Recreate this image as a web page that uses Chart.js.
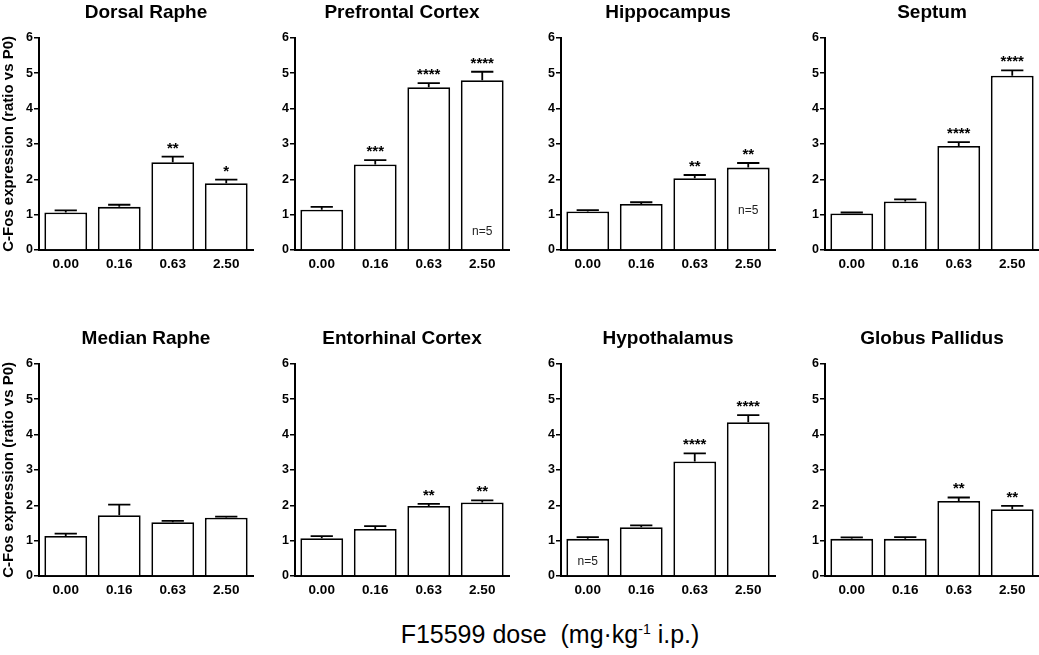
<!DOCTYPE html>
<html>
<head>
<meta charset="utf-8">
<script src="https://cdn.jsdelivr.net/npm/chart.js@4.4.1/dist/chart.umd.min.js"></script>
<style>
  body { margin: 0; background: #fff; width: 1039px; height: 655px; overflow: hidden; position: relative; }
  .panel { position: absolute; }
  #xtitle { position: absolute; left: 300px; top: 614px; width: 500px; text-align: center;
            font: 25px "Liberation Sans", Arial, sans-serif; color: #000; line-height: 30px; }
  #xtitle sup { font-size: 14px; }
</style>
</head>
<body>
<div id="xtitle">F15599 dose&nbsp;&nbsp;(mg·kg<sup>-1</sup> i.p.)</div>
<script>
const doses = ["0.00", "0.16", "0.63", "2.50"];
const regions = ["Dorsal Raphe", "Prefrontal Cortex", "Hippocampus", "Septum",
                 "Median Raphe", "Entorhinal Cortex", "Hypothalamus", "Globus Pallidus"];

// mean ratio vs P0, per region
const dorsalRaphe   = [1.06, 1.22, 2.48, 1.89];
const prefrontal    = [1.14, 2.42, 4.60, 4.80];
const hippocampus   = [1.09, 1.30, 2.03, 2.33];
const septum        = [1.03, 1.37, 2.94, 4.93];
const medianRaphe   = [1.13, 1.72, 1.52, 1.65];
const entorhinal    = [1.07, 1.33, 1.98, 2.08];
const hypothalamus  = [1.05, 1.38, 3.24, 4.35];
const globusPall    = [1.05, 1.05, 2.12, 1.89];

// SEM (upper error bar only)
const dorsalRapheErr  = [0.06, 0.06, 0.16, 0.10];
const prefrontalErr   = [0.08, 0.12, 0.12, 0.24];
const hippocampusErr  = [0.04, 0.05, 0.09, 0.13];
const septumErr       = [0.03, 0.06, 0.11, 0.15];
const medianRapheErr  = [0.07, 0.30, 0.04, 0.03];
const entorhinalErr   = [0.06, 0.08, 0.06, 0.06];
const hypothalamusErr = [0.05, 0.05, 0.23, 0.20];
const globusPallErr   = [0.04, 0.05, 0.10, 0.09];

// significance marks
const dorsalRapheSig  = ["", "", "**", "*"];
const prefrontalSig   = ["", "***", "****", "****"];
const hippocampusSig  = ["", "", "**", "**"];
const septumSig       = ["", "", "****", "****"];
const medianRapheSig  = ["", "", "", ""];
const entorhinalSig   = ["", "", "**", "**"];
const hypothalamusSig = ["", "", "****", "****"];
const globusPallSig   = ["", "", "**", "**"];

// "n=5" notes: [region index, bar index, height in axis units]
const nNotes = [[1, 3, 0.52], [2, 3, 1.10], [6, 0, 0.41]];

const yTicks = [0, 1, 2, 3, 4, 5, 6];

const means = [dorsalRaphe, prefrontal, hippocampus, septum, medianRaphe, entorhinal, hypothalamus, globusPall];
const errs = [dorsalRapheErr, prefrontalErr, hippocampusErr, septumErr, medianRapheErr, entorhinalErr, hypothalamusErr, globusPallErr];
const sigs = [dorsalRapheSig, prefrontalSig, hippocampusSig, septumSig, medianRapheSig, entorhinalSig, hypothalamusSig, globusPallSig];

const FONT = '"Liberation Sans", Arial, sans-serif';
const colLeft = [0, 270, 536, 800];
const rowTop = [0, 326];

// error bars, stars and n notes
const extras = {
    id: "extras",
    afterDatasetsDraw(chart, args, opts) {
        const ctx = chart.ctx;
        const y = chart.scales.y;
        const meta = chart.getDatasetMeta(0);
        ctx.save();
        ctx.strokeStyle = "#000";
        ctx.lineWidth = 1.8;
        meta.data.forEach((bar, i) => {
            const top = y.getPixelForValue(opts.mean[i] + opts.err[i]);
            const half = bar.width * 0.26;
            ctx.beginPath();
            ctx.moveTo(bar.x, bar.y);
            ctx.lineTo(bar.x, top);
            ctx.moveTo(bar.x - half, top);
            ctx.lineTo(bar.x + half, top);
            ctx.stroke();
            if (opts.sig[i]) {
                ctx.fillStyle = "#000";
                ctx.font = "bold 15px " + FONT;
                ctx.textAlign = "center";
                ctx.textBaseline = "alphabetic";
                ctx.fillText(opts.sig[i], bar.x, top - 4);
            }
        });
        nNotes.filter((n) => n[0] === opts.idx).forEach((n) => {
            const bar = meta.data[n[1]];
            ctx.fillStyle = "#222";
            ctx.font = "12px " + FONT;
            ctx.textAlign = "center";
            ctx.textBaseline = "middle";
            ctx.fillText("n=5", bar.x, y.getPixelForValue(n[2]));
        });
        ctx.restore();
    },
};

regions.forEach((name, idx) => {
    const col = idx % 4;
    const row = Math.floor(idx / 4);
    const yAxisW = col === 0 ? 39 : 25;
    const wrap = document.createElement("div");
    wrap.className = "panel";
    wrap.style.left = colLeft[col] + "px";
    wrap.style.top = rowTop[row] + "px";
    const w = yAxisW + 214 + 2;
    wrap.style.width = w + "px";
    wrap.style.height = "280px";
    const canvas = document.createElement("canvas");
    wrap.appendChild(canvas);
    document.body.appendChild(wrap);

    new Chart(canvas, {
        type: "bar",
        data: {
            labels: doses,
            datasets: [{
                data: means[idx],
                backgroundColor: "#fff",
                borderColor: "#000",
                borderWidth: 1.8,
                borderSkipped: "bottom",
                categoryPercentage: 1,
                barPercentage: 0.8,
            }],
        },
        options: {
            responsive: true,
            maintainAspectRatio: false,
            animation: false,
            events: [],
            layout: { padding: { left: 0, right: 2, top: 0, bottom: 0 } },
            plugins: {
                legend: { display: false },
                tooltip: { enabled: false },
                title: {
                    display: true,
                    text: name,
                    fullSize: false,
                    color: "#000",
                    font: { family: FONT, size: 19, weight: "bold", lineHeight: 1.2 },
                    padding: { top: 1, bottom: 14 },
                },
                extras: { mean: means[idx], err: errs[idx], sig: sigs[idx], idx: idx },
            },
            scales: {
                x: {
                    grid: { display: false },
                    border: { display: true, color: "#000", width: 2 },
                    ticks: { color: "#000", padding: -2, font: { family: FONT, size: 13.5, weight: "bold" } },
                    afterFit: (s) => { s.height = 30; },
                },
                y: {
                    min: 0,
                    max: 6,
                    afterBuildTicks: (s) => { s.ticks = yTicks.map((v) => ({ value: v })); },
                    grid: { display: true, drawOnChartArea: false, drawTicks: true, tickLength: 5, color: "#000", lineWidth: 1.5 },
                    border: { display: true, color: "#000", width: 2 },
                    ticks: { color: "#000", padding: 1, font: { family: FONT, size: 12.5, weight: "bold" } },
                    title: {
                        display: col === 0,
                        text: "C-Fos expression (ratio vs P0)",
                        color: "#000",
                        font: { family: FONT, size: 15, weight: "bold" },
                        padding: { top: 0, bottom: 0 },
                    },
                    afterFit: (s) => { s.width = yAxisW; },
                },
            },
        },
        plugins: [extras],
    });
});
</script>
</body>
</html>
